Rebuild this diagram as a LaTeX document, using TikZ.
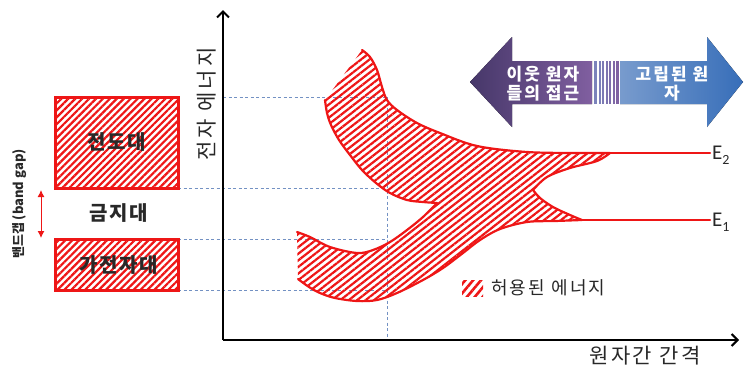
\documentclass[tikz,border=0pt]{standalone}
\usepackage{fontspec}
\setmainfont{Noto Sans CJK KR}
\newfontfamily\efont{Carlito}
\usetikzlibrary{patterns.meta,arrows.meta}
\definecolor{bred}{RGB}{238,22,22}
\definecolor{dashblue}{RGB}{115,145,195}
\definecolor{txt}{RGB}{40,40,40}
\definecolor{pdark}{RGB}{70,55,105}
\definecolor{plight}{RGB}{128,95,160}
\definecolor{blight}{RGB}{120,155,205}
\definecolor{bdark}{RGB}{55,110,185}
\tikzset{
  axis/.style={line width=2.2pt, -{Straight Barb[length=6pt,width=12pt,line width=2pt]}},
  guide/.style={dashblue, line width=0.9pt, dash pattern=on 3pt off 2.5pt},
  bandbox/.style={draw=bred, line width=3pt, pattern={Lines[angle=45,distance=4.9pt,line width=2.2pt]}, pattern color=bred},
  bandfill/.style={pattern={Lines[angle=38,distance=5.2pt,line width=2.2pt]}, pattern color=bred},
  bandline/.style={bred, line width=2.2pt, line join=round, line cap=round},
  lbl/.style={text=txt, inner sep=0pt},
  arrowtxt/.style={text=white, inner sep=0pt, align=center, font=\bfseries\fontsize{17}{19}\selectfont\addfontfeature{LetterSpace=12}},
  sm/.style={smooth, tension=0.55},
}
\begin{document}
\begin{tikzpicture}[x=1pt,y=-1pt]
\useasboundingbox (0,0) rectangle (746,368);

% guides
\coordinate (g0) at (223,97);
\coordinate (g1) at (178,188);
\coordinate (g2) at (178,239);
\coordinate (g3) at (178,290);
\coordinate (v0) at (387,97);
\coordinate (v1) at (387,188);
\coordinate (v2) at (387,239);
\coordinate (v3) at (387,290);
\coordinate (vb) at (387,340);
\draw[guide] (g0) -- (v0);
\draw[guide] (g1) -- (v1);
\draw[guide] (g2) -- (v2);
\draw[guide] (g3) -- (v3);
\draw[guide] (v0) -- (vb);

% axes
\coordinate (origin) at (223,340);
\coordinate (ytop) at (223,10);
\coordinate (xend) at (739,340);
\draw[axis] (origin) -- (ytop);
\draw[axis] (origin) -- (xend);
\node[lbl, rotate=90, font=\fontsize{21}{21}\selectfont\addfontfeature{LetterSpace=14}] (ylab) at (207,104) {전자 에너지};
\node[lbl, font=\fontsize{21}{21}\selectfont\addfontfeature{LetterSpace=12}] (xlab) at (645,356) {원자간 간격};

% bands: hatched fill
\path[bandfill] plot[sm] coordinates {(362,50) (370,57) (377,70) (382,87) (387,100) (397,110) (417,123) (440,133) (477,146) (527,152) (577,153) (610,153)}
 -- plot[sm] coordinates {(610,153) (597,161) (570,168) (547,177) (533,190)}
 -- plot[sm] coordinates {(533,190) (540,198) (553,207) (570,215) (582,220)}
 -- plot[sm] coordinates {(582,220) (555,221) (527,222) (500,229) (480,240) (463,253) (443,268) (423,280) (397,293) (377,300) (357,301) (335,298) (320,293) (309,287) (298,279)}
 -- plot[sm] coordinates {(297,232) (310,237) (330,247) (357,253) (373,250) (390,242) (407,230) (423,217) (437,203)}
 -- plot[sm] coordinates {(437,203) (423,202) (407,200) (390,193) (376,183) (362,170) (350,155) (339,140) (331,125) (327,113) (325,100)}
 -- cycle;
% band outlines (left cut edges have no outline)
\draw[bandline] plot[sm] coordinates {(362,50) (370,57) (377,70) (382,87) (387,100) (397,110) (417,123) (440,133) (477,146) (527,152) (577,153) (610,153)}
 -- plot[sm] coordinates {(610,153) (597,161) (570,168) (547,177) (533,190)}
 -- plot[sm] coordinates {(533,190) (540,198) (553,207) (570,215) (582,220)}
 -- plot[sm] coordinates {(582,220) (555,221) (527,222) (500,229) (480,240) (463,253) (443,268) (423,280) (397,293) (377,300) (357,301) (335,298) (320,293) (309,287) (298,279)};
\draw[bandline] plot[sm] coordinates {(297,232) (310,237) (330,247) (357,253) (373,250) (390,242) (407,230) (423,217) (437,203)}
 -- plot[sm] coordinates {(437,203) (423,202) (407,200) (390,193) (376,183) (362,170) (350,155) (339,140) (331,125) (327,113) (325,100)};
\coordinate (e2a) at (610,153);
\coordinate (e2b) at (710,153);
\coordinate (e1a) at (582,220);
\coordinate (e1b) at (710,220);
\draw[bandline] (e2a) -- (e2b);
\draw[bandline] (e1a) -- (e1b);
\node[lbl, anchor=west, font=\efont\fontsize{21}{21}\selectfont] (E2) at (712,155) {E\raisebox{-5pt}{\fontsize{14}{14}\selectfont 2}};
\node[lbl, anchor=west, font=\efont\fontsize{21}{21}\selectfont] (E1) at (712,222) {E\raisebox{-5pt}{\fontsize{14}{14}\selectfont 1}};

% legend
\path[pattern={Lines[angle=50,distance=6pt,line width=2.6pt]}, pattern color=bred] (462,280) rectangle (483,296);
\node[lbl, anchor=west, font=\fontsize{18}{18}\selectfont\addfontfeature{LetterSpace=12}] (leg) at (491,288) {허용된 에너지};

% left boxes
\draw[bandbox] (55,97) rectangle (178,188);
\draw[bandbox] (55,239) rectangle (178,290);
\node[lbl, font=\bfseries\fontsize{20}{20}\selectfont\addfontfeature{LetterSpace=8}] (cb) at (117,142) {전도대};
\node[lbl, font=\bfseries\fontsize{20}{20}\selectfont\addfontfeature{LetterSpace=8}] (gap) at (119,213) {금지대};
\node[lbl, font=\bfseries\fontsize{20}{20}\selectfont\addfontfeature{LetterSpace=8}] (vband) at (119,265) {가전자대};
\coordinate (ga) at (41,190);
\coordinate (gb) at (41,238);
\draw[bred, line width=1pt, {Latex[length=7pt,width=7pt]}-{Latex[length=7pt,width=7pt]}] (ga) -- (gb);
\node[lbl, rotate=90, font=\bfseries\fontsize{13}{13}\selectfont] (bg) at (20,204) {밴드갭 (band gap)};

% big arrow
\fill[left color=pdark, right color=plight] (470,82) -- (512,37) -- (512,61) -- (592,61) -- (592,104) -- (512,104) -- (512,127) -- cycle;
\fill[left color=blight, right color=bdark] (620,61) -- (707,61) -- (707,37) -- (743,82) -- (707,127) -- (707,104) -- (620,104) -- cycle;
\foreach \xa/\w/\c in {594/2.5/60, 598.5/2/55, 602/2/45, 605.5/2/35, 609/2/25, 612.5/2/15, 616/2.5/5}{
  \fill[blight!\c!plight] (\xa,61) rectangle ++(\w,43);
}
\node[arrowtxt] (near) at (543,84) {이웃 원자\\들의 접근};
\node[arrowtxt] (iso) at (672,84) {고립된 원\\자};
\end{tikzpicture}
\end{document}
